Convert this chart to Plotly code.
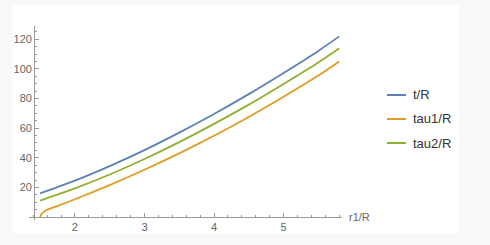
import plotly.graph_objects as go

# ---- data ----
r_t = [1.5, 2.0, 2.5, 3.0, 3.5, 4.0, 4.5, 5.0, 5.5, 5.8]
t_R = [16.0, 24.6, 34.4, 45.2, 57.0, 69.6, 83.0, 97.3, 112.2, 122.0]

r_tau1 = [1.5, 1.52, 1.55, 1.6, 1.75, 2.0, 2.5, 3.0, 3.5, 4.0, 4.5, 5.0, 5.5, 5.8]
tau1_R = [0.0, 2.0, 3.3, 4.9, 7.5, 12.0, 21.6, 31.9, 43.0, 54.9, 67.6, 81.2, 95.5, 105.0]

r_tau2 = [1.5, 2.0, 2.5, 3.0, 3.5, 4.0, 4.5, 5.0, 5.5, 5.8]
tau2_R = [11.1, 19.3, 28.7, 39.2, 50.6, 62.9, 75.9, 89.9, 104.4, 114.0]

names = ["t/R", "tau1/R", "tau2/R"]
colors = ["#5E81B5", "#E19C24", "#8FB032"]
x_ticks = [2, 3, 4, 5]
y_ticks = [20, 40, 60, 80, 100, 120]
x_title = "r1/R"

# ---- layout geometry ----
W, H = 490, 245
L, R_, T, B = 29, 148, 26, 25
pw, ph = W - L - R_, H - T - B
xr = [1.34, 5.84]
yr = [-2, 129]

fig = go.Figure()
series = [(r_t, t_R), (r_tau1, tau1_R), (r_tau2, tau2_R)]
for (xs, ys), nm, c in zip(series, names, colors):
    fig.add_trace(go.Scatter(x=xs, y=ys, mode="lines", name=nm,
                             line=dict(color=c, width=1.8, shape="spline", smoothing=0.6),
                             showlegend=False))

axcol = "#9a9a9a"
fig.update_layout(
    width=W, height=H,
    margin=dict(l=L, r=R_, t=T, b=B),
    paper_bgcolor="#f9f9f9", plot_bgcolor="rgba(0,0,0,0)",
    font=dict(family="Liberation Sans, Arial, sans-serif", size=11, color="#666"),
    xaxis=dict(range=xr, anchor="free", position=(0 - yr[0]) / (yr[1] - yr[0]),
               showgrid=False, zeroline=False, showline=True, linecolor=axcol, linewidth=1,
               tickvals=x_ticks, ticks="inside", ticklen=4, tickcolor=axcol,
               minor=dict(dtick=0.2, tick0=0, ticks="inside", ticklen=2, tickcolor=axcol)),
    yaxis=dict(range=yr, anchor="free", position=(1.414 - xr[0]) / (xr[1] - xr[0]),
               showgrid=False, zeroline=False, showline=True, linecolor=axcol, linewidth=1,
               tickvals=y_ticks, ticks="inside", ticklen=4, tickcolor=axcol,
               minor=dict(dtick=5, tick0=0, ticks="inside", ticklen=2, tickcolor=axcol)),
)

def px2paper_x(px):
    return (px - L) / pw

def py2paper_y(py):
    return (H - B - py) / ph

# white panel behind the chart
fig.add_shape(type="rect", xref="paper", yref="paper", layer="below",
              x0=px2paper_x(12.7), x1=px2paper_x(459), y0=py2paper_y(233), y1=py2paper_y(5),
              fillcolor="white", line=dict(width=0))

# x axis title
fig.add_annotation(text=x_title, xref="paper", yref="y", x=1, y=0, xanchor="left", yanchor="middle",
                   xshift=5, showarrow=False, font=dict(size=11, color="#666"))

# legend (drawn manually to get the short sample lines)
leg_y = [95, 119, 143]
for nm, c, yy in zip(names, colors, leg_y):
    fig.add_shape(type="line", xref="paper", yref="paper",
                  x0=px2paper_x(387), x1=px2paper_x(406), y0=py2paper_y(yy), y1=py2paper_y(yy),
                  line=dict(color=c, width=2))
    fig.add_annotation(text=nm, xref="paper", yref="paper", x=px2paper_x(411), y=py2paper_y(yy),
                       xanchor="left", yanchor="middle", showarrow=False,
                       font=dict(size=13, color="#333"))

fig.write_html("out.html")
